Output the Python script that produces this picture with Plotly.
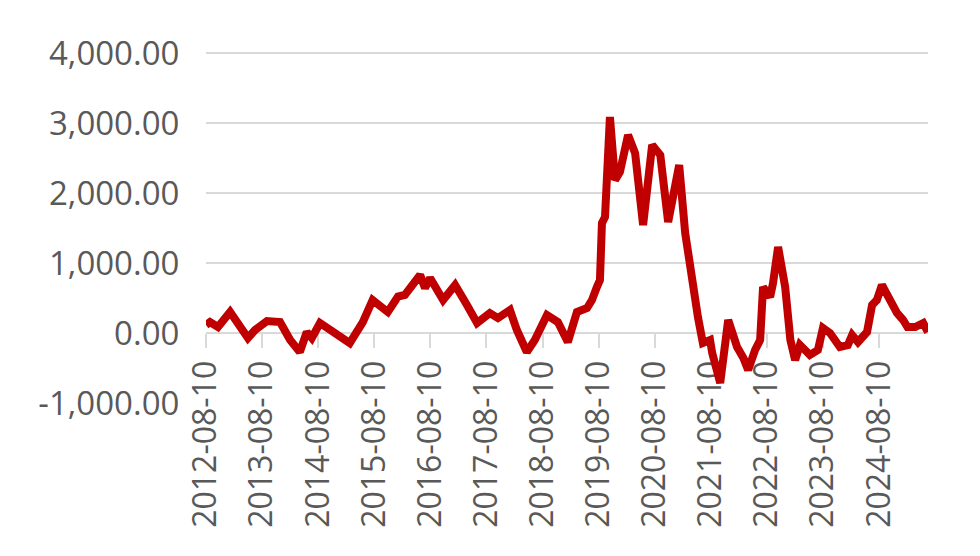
import plotly.graph_objects as go

dates = [
    "2012-08-10", "2012-09-05", "2012-10-27", "2013-01-14", "2013-05-10", "2013-06-25",
    "2013-09-11", "2013-12-05", "2014-02-09", "2014-04-13", "2014-05-28", "2014-06-30",
    "2014-08-22", "2014-11-15", "2015-03-04", "2015-05-28", "2015-07-31", "2015-11-07",
    "2016-01-12", "2016-02-26", "2016-06-04", "2016-07-06", "2016-08-08", "2016-11-01",
    "2017-01-18", "2017-04-05", "2017-06-10", "2017-09-01", "2017-10-24", "2018-01-10",
    "2018-02-24", "2018-04-30", "2018-06-21", "2018-09-08", "2018-11-18", "2019-01-22",
    "2019-03-22", "2019-05-27", "2019-06-28", "2019-07-30", "2019-08-19", "2019-09-01",
    "2019-09-21", "2019-10-23", "2019-11-25", "2019-12-27", "2020-02-18", "2020-04-04",
    "2020-05-26", "2020-07-24", "2020-09-15", "2020-11-05", "2020-12-07", "2021-01-16",
    "2021-02-24", "2021-04-10", "2021-05-18", "2021-06-19", "2021-08-05", "2021-08-19",
    "2021-10-10", "2021-12-01", "2022-01-28", "2022-03-10", "2022-04-10", "2022-05-25",
    "2022-06-27", "2022-07-16", "2022-08-31", "2022-09-19", "2022-10-22", "2022-12-07",
    "2023-01-10", "2023-02-10", "2023-03-13", "2023-04-28", "2023-05-17", "2023-07-08",
    "2023-08-10", "2023-09-25", "2023-11-28", "2024-01-19", "2024-02-16", "2024-03-25",
    "2024-05-23", "2024-06-25", "2024-07-26", "2024-08-28", "2024-10-06", "2024-12-04",
    "2025-01-13", "2025-02-10", "2025-04-02", "2025-05-24", "2025-06-24",
]
values = [
    114, 157, 86, 300, -71, 43,
    171, 157, -100, -271, 14, -71,
    143, 14, -143, 157, 471, 300,
    520, 543, 829, 643, 786, 471,
    686, 400, 143, 286, 214, 329,
    43, -271, -100, 257, 157, -129,
    300, 357, 471, 657, 757, 1571,
    1657, 3086, 2186, 2300, 2829, 2571,
    1543, 2686, 2543, 1586, 1943, 2400,
    1429, 714, 229, -143, -100, -286,
    -714, 186, -200, -357, -529, -243,
    -100, 657, 514, 714, 1229, 657,
    -100, -386, -171, -271, -314, -243,
    71, 0, -200, -171, -29, -129,
    14, 400, 471, 686, 500, 286,
    186, 86, 86, 143, 14,
]

tick_years = list(range(2012, 2025))
x_tick_vals = [f"{y}-08-10" for y in tick_years]
x_tick_text = [f"{y}-08-10" for y in tick_years]

y_tick_vals = [-1000, 0, 1000, 2000, 3000, 4000]
y_tick_text = ["-1,000.00", "0.00", "1,000.00", "2,000.00", "3,000.00", "4,000.00"]

y_min, y_max = -1000, 4030

fig = go.Figure()
fig.add_trace(go.Scatter(
    x=dates, y=values, mode="lines",
    line=dict(color="#C00000", width=8),
    hoverinfo="skip",
))

font_family = "Open Sans"
text_color = "#595959"
grid_color = "#D9D9D9"

fig.update_layout(
    width=972, height=548,
    margin=dict(l=198, r=52, t=43, b=153),
    paper_bgcolor="white", plot_bgcolor="white",
    showlegend=False,
    font=dict(family=font_family, color=text_color, size=33),
    xaxis=dict(
        type="date",
        range=["2012-08-10", "2025-06-24"],
        anchor="free",
        position=(0 - y_min) / (y_max - y_min),
        tickmode="array",
        tickvals=x_tick_vals,
        ticktext=x_tick_text,
        tickangle=-90,
        ticks="outside",
        ticklen=14,
        tickwidth=2,
        tickcolor=grid_color,
        showline=True,
        linecolor=grid_color,
        linewidth=2,
        showgrid=False,
        zeroline=False,
        layer="below traces",
        automargin=False,
        tickfont=dict(family=font_family, color=text_color, size=32),
    ),
    yaxis=dict(
        range=[y_min, y_max],
        tickmode="array",
        tickvals=y_tick_vals,
        ticktext=y_tick_text,
        showgrid=True,
        gridcolor=grid_color,
        gridwidth=2,
        zeroline=False,
        showline=False,
        ticks="outside",
        ticklen=19,
        tickcolor="rgba(0,0,0,0)",
        automargin=False,
        tickfont=dict(family=font_family, color=text_color, size=33),
    ),
)

fig.write_html("out.html")
